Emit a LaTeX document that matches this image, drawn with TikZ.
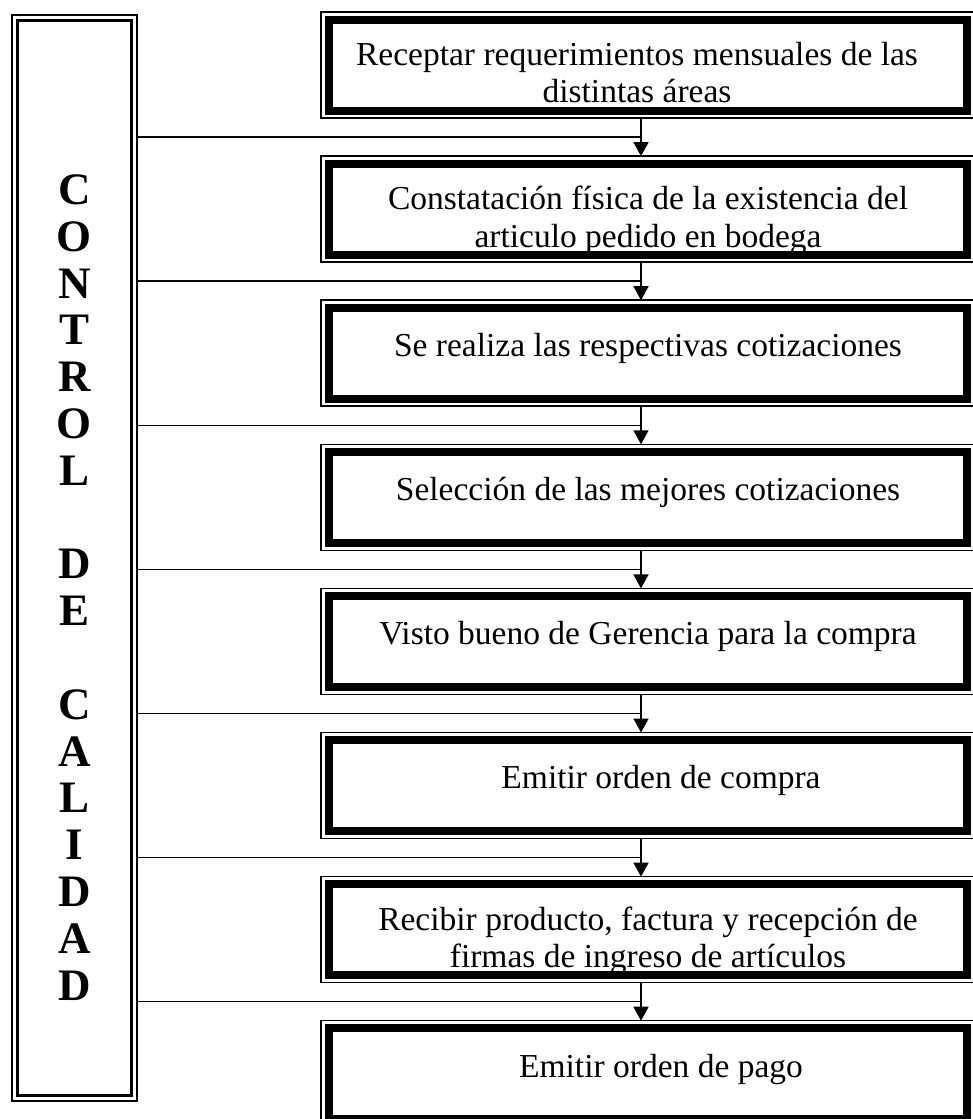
\documentclass[tikz,border=0pt]{standalone}
\usepackage{fontspec}
\setmainfont{Liberation Serif}
\usetikzlibrary{arrows.meta, positioning}

\tikzset{
  caja/.style={minimum width=653pt, minimum height=106pt, inner sep=0pt, outer sep=0pt, anchor=north west},
  texto/.style={anchor=north, align=center, inner sep=0pt, font=\fontsize{33.5}{37.5}\selectfont, execute at begin node=\strut},
  fino/.style={line width=1.5pt},
  grueso/.style={line width=8pt},
  flecha/.style={-{Triangle[length=14pt, width=15pt]}, line width=1.6pt},
}

\begin{document}
\begin{tikzpicture}[x=1pt, y=-1pt]
  \useasboundingbox (0,0) rectangle (973,1119);

  % Side frame
  \node[minimum width=125pt, minimum height=1086pt, inner sep=0pt, outer sep=0pt] (ctrl) at (74.5,558) {};
  \node[align=center, inner sep=0pt, font=\bfseries\fontsize{45}{46.8}\selectfont] (letras) at (74.5,587.5)
    {C\\O\\N\\T\\R\\O\\L\\\mbox{}\\D\\E\\\mbox{}\\C\\A\\L\\I\\D\\A\\D};
  \draw[line width=2pt] (ctrl.north west) rectangle (ctrl.south east);
  \draw[line width=3.5pt] ([shift={(5.5pt,-5.5pt)}]ctrl.north west) rectangle ([shift={(-5.5pt,5.5pt)}]ctrl.south east);

  % Steps
  \foreach \i/\xt/\txt in {
      1/316/{Receptar requerimientos mensuales de las\\distintas áreas},
      2/327/{Constatación física de la existencia del\\articulo pedido en bodega},
      3/327/{Se realiza las respectivas cotizaciones},
      4/327/{Selección de las mejores cotizaciones},
      5/327/{Visto bueno de Gerencia para la compra},
      6/340/{Emitir orden de compra},
      7/327/{Recibir producto, factura y recepción de\\firmas de ingreso de artículos},
      8/340/{Emitir orden de pago}} {
    \node[caja] (b\i) at (321, {12+144.1*(\i-1)}) {};
    \node[texto] (t\i) at ([shift={(\xt pt,-30pt)}]b\i.north west) {\txt};
    \draw[fino] (b\i.north west) rectangle (b\i.south east);
    \draw[grueso] ([shift={(7.5pt,-7.5pt)}]b\i.north west) rectangle ([shift={(-7.5pt,7.5pt)}]b\i.south east);
  }

  % Arrows and links to the side frame
  \foreach \i [evaluate=\i as \j using int(\i+1)] in {1,...,7} {
    \draw[flecha] ([xshift=-6.5pt]b\i.south) -- coordinate (m\i) ([xshift=-6.5pt]b\j.north);
    \draw[fino] (m\i) -- (ctrl.east |- m\i);
  }
\end{tikzpicture}
\end{document}
